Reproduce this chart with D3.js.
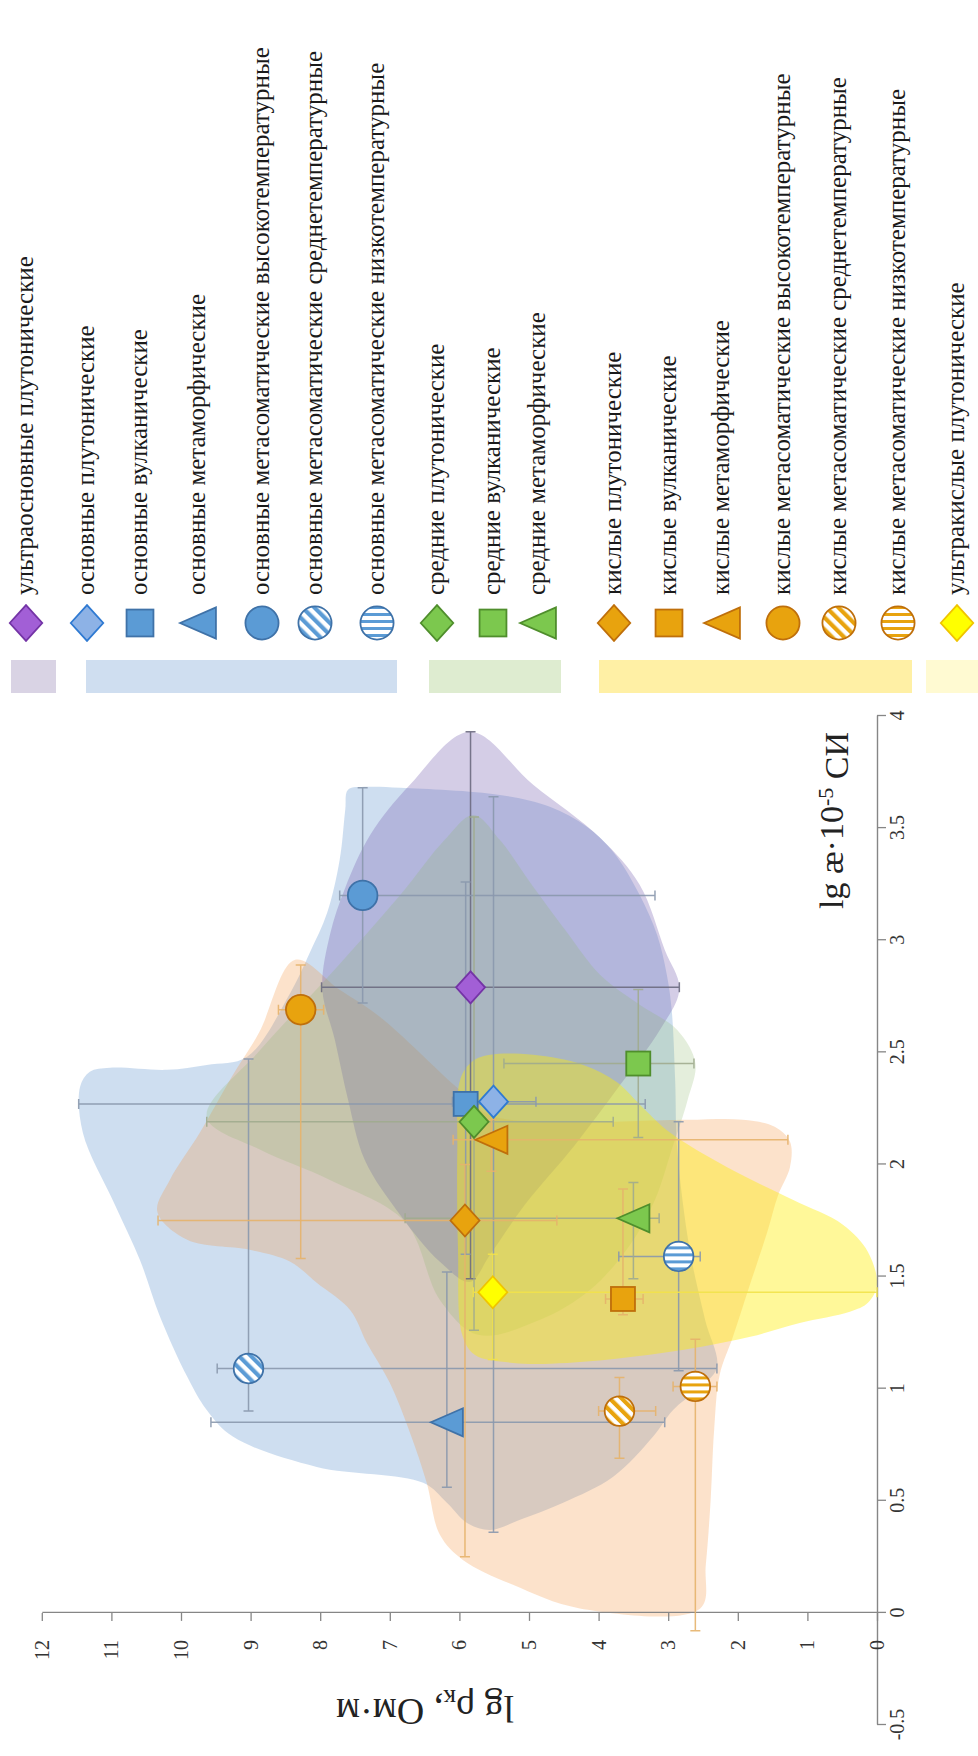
<!DOCTYPE html>
<html>
<head>
<meta charset="utf-8">
<script src="https://cdn.jsdelivr.net/npm/d3@7"></script>
<style>
  html, body { margin: 0; padding: 0; background: #ffffff; }
  svg { display: block; }
  svg text { font-family: "Liberation Serif", "Times New Roman", serif; }
</style>
</head>
<body>
<svg id="chart" width="978" height="1756"></svg>
<script>
// ---- rock groups (series) ----
const seriesNames = [
  "ультраосновные плутонические",
  "основные плутонические",
  "основные вулканические",
  "основные метаморфические",
  "основные метасоматические высокотемпературные",
  "основные метасоматические среднетемпературные",
  "основные метасоматические низкотемпературные",
  "средние плутонические",
  "средние вулканические",
  "средние метаморфические",
  "кислые плутонические",
  "кислые вулканические",
  "кислые метаморфические",
  "кислые метасоматические высокотемпературные",
  "кислые метасоматические среднетемпературные",
  "кислые метасоматические низкотемпературные",
  "ультракислые плутонические"
];
const seriesGroup = ["ultrabasic","basicPlut","basic","basic","basic","basic","basic",
  "intermediate","intermediate","intermediate","acid","acid","acid","acid","acid","acid","ultraacid"];
const seriesShape = ["diamond","diamond","square","triangle","circle","circle","circle",
  "diamond","square","triangle","diamond","square","triangle","circle","circle","circle","diamond"];
const seriesFill = ["solid","solid","solid","solid","solid","diagonal","horizontal",
  "solid","solid","solid","solid","solid","solid","solid","diagonal","horizontal","solid"];

// mean values: lg æ·10^-5 SI and lg ρк (Ohm·m)
const lgKappa = [2.79, 2.28, 2.27, 0.85, 3.20, 1.09, 1.59, 2.19, 2.45, 1.76, 1.75, 1.40, 2.11, 2.69, 0.90, 1.01, 1.43];
const lgRho   = [5.84, 5.51, 5.91, 6.18, 7.39, 9.03, 2.85, 5.79, 3.43, 3.50, 5.92, 3.65, 5.54, 8.28, 3.70, 2.61, 5.52];
// spread limits
const kappaLow  = [1.49, 0.36, 1.60, 0.56, 2.72, 0.90, 1.08, 1.26, 2.12, 1.49, 0.25, 1.33, 1.97, 1.58, 0.69, -0.08, 1.13];
const kappaHigh = [3.93, 3.64, 3.26, 1.52, 3.68, 2.47, 2.19, 3.55, 2.78, 1.92, 2.00, 1.89, 2.20, 2.89, 1.05, 1.22, 1.60];
const rhoLow    = [2.84, 4.90, 3.33, 3.05, 3.19, 2.30, 2.54, 3.79, 2.63, 3.13, 4.60, 3.36, 1.28, 7.95, 3.18, 2.30, 0.00];
const rhoHigh   = [7.98, 6.10, 11.47, 9.57, 7.72, 9.48, 3.71, 9.63, 5.36, 6.78, 10.33, 3.90, 6.09, 8.60, 4.00, 2.93, 5.80];

// axis ticks
const kappaTicks = [-0.5, 0, 0.5, 1, 1.5, 2, 2.5, 3, 3.5, 4];
const rhoTicks = [0, 1, 2, 3, 4, 5, 6, 7, 8, 9, 10, 11, 12];

// field outlines, points as [lg æ, lg ρ]
const fieldBasic = [[2.413,11.31],[2.431,11.02],[2.422,10.20],[2.444,9.63],[2.480,9.05],[2.765,8.43],[2.944,8.15],
  [3.122,7.90],[3.359,7.72],[3.582,7.64],[3.671,7.60],[3.684,7.33],[3.680,6.85],[3.648,5.42],[3.595,4.70],
  [3.506,4.17],[3.394,3.79],[3.202,3.41],[3.024,3.16],[2.846,3.02],[2.690,2.95],[2.377,2.90],[2.065,2.87],
  [1.619,2.69],[1.307,2.47],[1.093,2.30],[0.995,2.59],[0.905,2.93],[0.785,3.22],[0.607,3.79],[0.491,4.51],
  [0.415,5.13],[0.370,5.56],[0.401,5.89],[0.491,6.18],[0.580,6.52],[0.651,8.05],[0.785,9.25],[0.905,9.63],
  [1.053,9.91],[1.320,10.30],[1.574,10.59],[1.820,10.95],[2.141,11.41],[2.346,11.45]];
const fieldAcid = [[2.913,8.36],[2.779,7.72],[2.658,7.14],[2.342,6.03],[2.221,5.56],[2.190,4.55],[2.199,2.73],
  [2.199,1.93],[2.168,1.47],[2.101,1.25],[1.989,1.25],[1.864,1.42],[1.695,1.58],[1.441,1.85],[1.231,2.07],
  [1.062,2.26],[0.816,2.34],[0.504,2.39],[0.214,2.46],[0.02,2.54],[0.02,4.27],[0.125,5.23],[0.236,5.95],
  [0.348,6.28],[0.580,6.47],[0.803,6.71],[1.026,7.00],[1.204,7.33],[1.351,7.57],[1.472,8.05],[1.566,8.43],
  [1.619,9.01],[1.664,9.91],[1.789,10.34],[1.931,10.16],[2.141,9.73],[2.391,9.27],[2.587,8.88]];
const fieldUltrabasic = [[3.93,5.85],[3.693,4.94],[3.457,3.98],[3.247,3.41],[2.957,3.05],[2.783,2.84],[2.600,3.12],
  [2.355,3.69],[2.087,4.34],[1.820,5.06],[1.597,5.56],[1.476,5.85],[1.566,6.28],[1.775,6.85],[2.020,7.36],
  [2.288,7.60],[2.556,7.79],[2.783,7.97],[3.024,7.86],[3.234,7.64],[3.470,7.28],[3.693,6.71]];
const fieldIntermediate = [[3.559,5.80],[3.448,5.42],[3.238,4.94],[3.033,4.45],[2.846,3.98],[2.712,3.41],[2.600,2.87],
  [2.453,2.61],[2.288,2.72],[2.065,2.95],[1.842,3.19],[1.641,3.55],[1.441,4.12],[1.307,4.84],[1.240,5.73],
  [1.396,6.28],[1.744,6.78],[1.931,7.86],[2.065,8.86],[2.212,9.63],[2.511,8.86],[2.846,7.86],[3.202,6.85],[3.448,6.21]];
const fieldUltraacid = [[2.377,5.99],[2.458,5.82],[2.489,5.56],[2.489,4.94],[2.444,4.22],[2.368,3.74],[2.252,3.36],
  [2.141,2.97],[1.989,2.16],[1.842,1.21],[1.731,0.49],[1.610,0.13],[1.463,0.0],[1.383,0.13],[1.343,0.39],
  [1.293,1.11],[1.231,1.82],[1.186,2.54],[1.142,3.51],[1.115,4.45],[1.115,5.23],[1.151,5.78],[1.240,5.96],
  [1.619,6.02],[2.065,6.03]];

// ---- styling ----
const serif = "'Liberation Serif', 'Times New Roman', serif";
const palette = {
  ultrabasic:   { fill: "#a25fd6", stroke: "#7434a6", bar: "#6c6a80", field: "#7862b0", band: "#d9d3e4" },
  basicPlut:    { fill: "#8db2e6", stroke: "#2f7ad2", bar: "#8a98ad" },
  basic:        { fill: "#5b9bd5", stroke: "#3f72a8", bar: "#8a98ad", field: "#4a86c8", band: "#cfdef0" },
  intermediate: { fill: "#7cc84e", stroke: "#4f8e2c", bar: "#a0ab8e", field: "#8fb86c", band: "#deecd0" },
  acid:         { fill: "#e8a30e", stroke: "#bf6f0b", bar: "#e6b36c", field: "#f5923e", band: "#fff0a5" },
  ultraacid:    { fill: "#ffff00", stroke: "#f0c400", bar: "#f2e24a", field: "#ffee00", band: "#fffad2" }
};

// ---- frame: the chart is laid out lying on its side ----
const FW = 1756;   // long side of the page
const svg = d3.select("#chart");
const defs = svg.append("defs");
const g = svg.append("g").attr("transform", `translate(0,${FW}) rotate(-90)`)
  .attr("font-family", serif);

const x = d3.scaleLinear().domain([-0.5, 4]).range([31, 1040]);
const y = d3.scaleLinear().domain([0, 12]).range([877, 41.8]);

// stripe fills for the metasomatic circles
function stripes(id, color, angle, period, width) {
  const p = defs.append("pattern").attr("id", id)
    .attr("patternUnits", "userSpaceOnUse")
    .attr("width", period).attr("height", period);
  if (angle) p.attr("patternTransform", `rotate(${angle})`);
  p.append("rect").attr("width", period).attr("height", period).attr("fill", "#fff");
  p.append("rect").attr("width", width).attr("height", period).attr("fill", color);
}
["basic", "acid"].forEach(k => {
  stripes(`diag-${k}`, palette[k].fill, 45, 8.5, 4.2);
  stripes(`horiz-${k}`, palette[k].fill, 0, 7, 3);
});

// ---- fields ----
const outline = d3.line().x(d => x(d[0])).y(d => y(d[1])).curve(d3.curveCatmullRomClosed.alpha(0.5));
const fields = [
  { pts: fieldBasic, key: "basic", op: 0.27 },
  { pts: fieldAcid, key: "acid", op: 0.27 },
  { pts: fieldUltrabasic, key: "ultrabasic", op: 0.32 },
  { pts: fieldIntermediate, key: "intermediate", op: 0.24 },
  { pts: fieldUltraacid, key: "ultraacid", op: 0.40 }
];
g.append("g").selectAll("path").data(fields).join("path")
  .attr("d", d => outline(d.pts))
  .attr("fill", d => palette[d.key].field)
  .attr("fill-opacity", d => d.op)
  .attr("stroke", "none");

// ---- axes ----
const axisColor = "#868686";
const xAxis = d3.axisBottom(x).tickValues(kappaTicks).tickSizeInner(9).tickSizeOuter(0)
  .tickPadding(4).tickFormat(d => String(d));
const yAxis = d3.axisLeft(y).tickValues(rhoTicks).tickSizeInner(8).tickSizeOuter(0)
  .tickPadding(19).tickFormat(d => String(d));

const gx = g.append("g").attr("transform", `translate(0,${y(0)})`).call(xAxis);
const gy = g.append("g").attr("transform", `translate(${x(0)},0)`).call(yAxis);
[gx, gy].forEach(a => {
  a.attr("font-family", serif).attr("font-size", 20);
  a.select(".domain").attr("stroke", axisColor).attr("stroke-width", 1.4);
  a.selectAll(".tick line").attr("stroke", axisColor).attr("stroke-width", 1.3);
  a.selectAll(".tick text").attr("fill", "#333").attr("font-family", serif).attr("font-size", 20);
});

// axis titles
const yTitle = g.append("text")
  .attr("transform", "translate(60,425) rotate(-90)")
  .attr("text-anchor", "middle").attr("fill", "#222")
  .attr("font-family", serif).attr("font-size", 38);
yTitle.append("tspan").text("lg ρ");
yTitle.append("tspan").attr("dy", "0.25em").attr("font-size", 26).text("к");
yTitle.append("tspan").attr("dy", "-0.25em").text(", Ом·м");

const xTitle = g.append("text").attr("x", 1024).attr("y", 843)
  .attr("text-anchor", "end").attr("fill", "#222")
  .attr("font-family", serif).attr("font-size", 34);
xTitle.append("tspan").text("lg æ·10");
xTitle.append("tspan").attr("dy", "-0.45em").attr("font-size", 22).text("-5");
xTitle.append("tspan").attr("dy", "0.45em").text(" СИ");

// ---- spread bars ----
const items = seriesNames.map((name, i) => ({
  name, i, group: seriesGroup[i], shape: seriesShape[i], fillType: seriesFill[i],
  k: lgKappa[i], r: lgRho[i], kLo: kappaLow[i], kHi: kappaHigh[i], rLo: rhoLow[i], rHi: rhoHigh[i]
}));
const cap = 5;
const bars = g.append("g").selectAll("g").data(items).join("g")
  .attr("stroke", d => palette[d.group].bar).attr("stroke-width", 1.5)
  .attr("stroke-opacity", 0.9).attr("fill", "none");
bars.append("path").attr("d", d =>
  `M${x(d.kLo)},${y(d.r)}H${x(d.kHi)}` +
  `M${x(d.kLo)},${y(d.r) - cap}V${y(d.r) + cap}` +
  `M${x(d.kHi)},${y(d.r) - cap}V${y(d.r) + cap}`);
bars.append("path").attr("d", d =>
  `M${x(d.k)},${y(d.rLo)}V${y(d.rHi)}` +
  `M${x(d.k) - cap},${y(d.rLo)}H${x(d.k) + cap}` +
  `M${x(d.k) - cap},${y(d.rHi)}H${x(d.k) + cap}`);

// ---- markers ----
function marker(sel, d, s) {
  const pal = palette[d.group];
  const baseKey = d.group === "acid" ? "acid" : "basic";
  let m;
  if (d.shape === "circle") m = sel.append("circle").attr("r", 14.8 * s);
  else if (d.shape === "square") m = sel.append("rect").attr("x", -12 * s).attr("y", -12 * s)
    .attr("width", 24 * s).attr("height", 24 * s);
  else if (d.shape === "diamond") m = sel.append("path")
    .attr("d", `M0,${-14.5 * s}L${16 * s},0L0,${14.5 * s}L${-16 * s},0Z`);
  else m = sel.append("path")
    .attr("d", `M0,${-16 * s}L${14 * s},${16 * s}L${-14 * s},${16 * s}Z`);
  let fill = pal.fill;
  if (d.fillType === "diagonal") fill = `url(#diag-${baseKey})`;
  if (d.fillType === "horizontal") fill = `url(#horiz-${baseKey})`;
  m.attr("fill", fill).attr("stroke", pal.stroke).attr("stroke-width", 1.8);
}
g.append("g").selectAll("g").data(items).join("g")
  .attr("transform", d => `translate(${x(d.k)},${y(d.r)})`)
  .each(function (d) { marker(d3.select(this), d, 1); });

// ---- legend ----
const legendPos = [26, 87, 140, 198, 262, 315, 377, 437, 493, 538, 614, 669, 722, 783, 839, 898, 957];
const legendBands = [
  { key: "ultrabasic", from: 11, to: 56 },
  { key: "basic", from: 86, to: 397 },
  { key: "intermediate", from: 429, to: 561 },
  { key: "acid", from: 599, to: 912 },
  { key: "ultraacid", from: 926, to: 980 }
];
const lg = g.append("g");
lg.selectAll("rect.band").data(legendBands).join("rect").attr("class", "band")
  .attr("x", 1063).attr("width", 33)
  .attr("y", d => d.from).attr("height", d => d.to - d.from)
  .attr("fill", d => palette[d.key].band);
const li = lg.selectAll("g.item").data(items).join("g").attr("class", "item")
  .attr("transform", d => `translate(1133,${legendPos[d.i]})`);
li.each(function (d) { marker(d3.select(this), d, 1.12); });
li.append("text").attr("x", 28).attr("y", 7)
  .attr("fill", "#1a1a1a").attr("font-family", serif).attr("font-size", 25)
  .text(d => d.name);
</script>
</body>
</html>
